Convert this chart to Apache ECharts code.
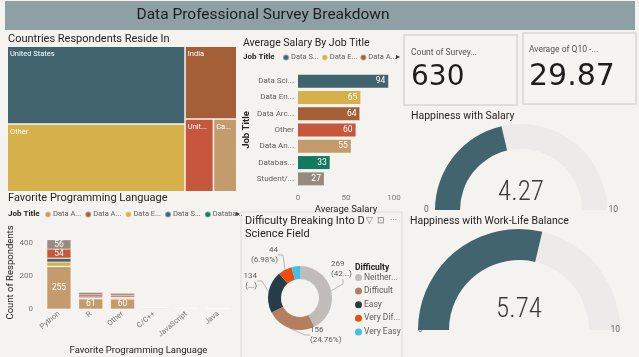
<!DOCTYPE html>
<html><head><meta charset="utf-8">
<script src="https://cdn.jsdelivr.net/npm/echarts@6/dist/echarts.min.js"></script>
<style>html,body{margin:0;padding:0;background:#f4f3ef}#c{width:639px;height:357px}</style>
</head><body><div id="c"></div>
<script>
// ---------- data ----------
const countries = ['United States','Other','India','United Kingdom','Canada'];
const countryCounts = [261,227,71,39,32];

const salaryTitles = ['Data Scientist','Data Engineer','Data Architect','Other','Data Analyst','Database Developer','Student/Looking/None'];
const salaryValues = [94,65,64,60,55,33,27];

const languages = ['Python','R','Other','C/C++','JavaScript','Java'];
const jobTitles = ['Data Analyst','Data Architect','Data Engineer','Data Scientist','Database Developer','Other','Student/Looking/None'];
const langAnalyst   = [255,61,60,5,3,2];
const langArchitect = [3,1,1,1,1,0];
const langEngineer  = [25,4,5,1,1,0];
const langScientist = [22,6,4,0,0,0];
const langDatabase  = [2,1,2,0,0,0];
const langOther     = [54,12,11,1,1,1];
const langStudent   = [56,15,12,1,0,0];

const difficulty = ['Neither easy nor difficult','Difficult','Easy','Very Difficult','Very Easy'];
const difficultyCounts = [269,156,134,44,27];

const surveyCount = 630;
const avgQ10 = 29.87;
const happySalary = 4.27;
const happyWLB = 5.74;
const gaugeTicks = [0,10];

// ---------- style ----------
const BG = '#f4f3ef';
const FONT = "Roboto,'Noto Sans',sans-serif";
const C = {teal:'#41646e', yellow:'#d6b14b', brown:'#a55f37', red:'#c6573d', tan:'#c49b6d', green:'#137a5d', gray:'#968b81'};
const jobColor = {'Data Analyst':C.tan,'Data Architect':C.brown,'Data Engineer':C.yellow,'Data Scientist':C.teal,'Database Developer':C.green,'Other':C.red,'Student/Looking/None':C.gray};
const countryColor = [C.teal, C.yellow, C.brown, C.red, C.tan];
const diffColor = ['#c1bcb7','#b47f5f','#263d48','#e64f10','#3fc0e8'];
const langSeries = [langAnalyst,langArchitect,langEngineer,langScientist,langDatabase,langOther,langStudent];
// donut label placement (layout only)
const pieLabelPos = [
  {x:331, y:269, align:'left'},
  {x:310, y:335, align:'left'},
  {x:257, y:281, align:'right'},
  {x:278, y:255, align:'right'},
  null
];
const pieLabelWidth = [24, null, 15, null, null];

const chart = echarts.init(document.getElementById('c'));
const short = n => n.length > 6 ? n.slice(0,6) + '...' : n;

function gauge(center, radius, width, value, detailY, labelPad, labelDist) {
  return {
    type:'gauge', center:center, radius:radius, startAngle:180, endAngle:0, min:gaugeTicks[0], max:gaugeTicks[1], splitNumber:1,
    progress:{show:true, width:width, itemStyle:{color:C.teal}},
    axisLine:{lineStyle:{width:width, color:[[1,'#ecebea']]}},
    pointer:{show:false}, anchor:{show:false}, axisTick:{show:false},
    splitLine:{show:false, length:0, distance:0},
    axisLabel:{distance:labelDist, color:'#666', fontSize:8.5, fontFamily:FONT, padding:labelPad},
    title:{show:false},
    detail:{offsetCenter:[0,detailY], formatter:v=>v.toFixed(2), fontSize:27, fontWeight:300, color:'#3a3a3a', fontFamily:"'Liberation Sans Narrow','Roboto Condensed',Roboto"},
    data:[{value:value}], silent:true, animation:false
  };
}

const txt = (x,y,t,size,opt) => Object.assign({type:'text', x:x, y:y, style:Object.assign({text:t, fill:'#252423', font: size+'px '+FONT, textVerticalAlign:'middle'}, opt||{})});

const option = {
  backgroundColor: BG,
  animation:false,
  grid:[
    {left:298, top:73, width:96, height:114, containLabel:false},
    {left:43, top:236, width:191, height:79, containLabel:false}
  ],
  legend:[
    {data:['Data Scientist','Data Engineer','Data Architect'], left:282, top:53.5, icon:'circle', itemWidth:6, itemHeight:6, itemGap:2, padding:0,
     formatter:short, textStyle:{fontSize:7.5, color:'#605e5c', fontFamily:FONT, padding:[0,0,0,-3]}, selectedMode:false},
    {data:['Data Analyst','Data Architect','Data Engineer','Data Scientist','Database Developer'], left:44, top:210.5, icon:'circle', itemWidth:6, itemHeight:6, itemGap:3, padding:0,
     formatter:short, textStyle:{fontSize:7.5, color:'#605e5c', fontFamily:FONT, padding:[0,0,0,-3]}, selectedMode:false},
    {data:difficulty, orient:'vertical', left:355, top:273, icon:'circle', itemWidth:7, itemHeight:7, itemGap:4.6, padding:0,
     textStyle:{fontSize:8.5, color:'#605e5c', fontFamily:FONT, width:38, overflow:'truncate', ellipsis:'...', padding:[0,0,0,-3]}, selectedMode:false}
  ],
  xAxis:[
    {gridIndex:0, type:'value', min:0, max:100, interval:50, splitLine:{show:false}, axisLine:{show:false}, axisTick:{show:false},
     axisLabel:{fontSize:8, color:'#777', fontFamily:FONT, margin:7},
     name:'Average Salary', nameLocation:'middle', nameGap:18, nameTextStyle:{fontSize:9.5, color:'#252423', fontFamily:FONT}},
    {gridIndex:1, type:'category', data:languages, axisLine:{show:false}, axisTick:{show:false},
     axisLabel:{fontSize:7.5, color:'#777', fontFamily:FONT, rotate:40, margin:4, interval:0},
     name:'Favorite Programming Language', nameLocation:'middle', nameGap:37, nameTextStyle:{fontSize:9.5, color:'#252423', fontFamily:FONT}}
  ],
  yAxis:[
    {gridIndex:0, type:'category', data:salaryTitles, inverse:true, axisLine:{show:false}, axisTick:{show:false},
     axisLabel:{fontSize:8, color:'#605e5c', fontFamily:FONT, width:39, overflow:'truncate', ellipsis:'...', margin:4},
     name:'Job Title', nameLocation:'middle', nameGap:46, nameRotate:90, nameTextStyle:{fontSize:9.5, fontWeight:'bold', color:'#252423', fontFamily:FONT}},
    {gridIndex:1, type:'value', min:0, max:440, interval:200, splitLine:{show:false}, axisLine:{show:false}, axisTick:{show:false},
     axisLabel:{fontSize:8, color:'#777', fontFamily:FONT, margin:10, showMaxLabel:false},
     name:'Count of Respondents', nameLocation:'middle', nameGap:26, nameRotate:90, nameTextStyle:{fontSize:9.5, color:'#252423', fontFamily:FONT}}
  ],
  series:[
    {type:'treemap', left:8, top:47, width:228, height:144, roam:false, nodeClick:false, breadcrumb:{show:false},
     label:{show:true, position:'insideTopLeft', color:'#fff', fontSize:7.5, fontFamily:FONT, overflow:'truncate', ellipsis:'...', padding:[3,1,3,2]},
     upperLabel:{show:false},
     levels:[{itemStyle:{gapWidth:1.5, borderWidth:0, borderColor:BG}}],
     itemStyle:{borderWidth:0},
     data: countries.map((n,i)=>({name:n, value:countryCounts[i], itemStyle:{color:countryColor[i]}})), silent:true},
    {type:'bar', xAxisIndex:0, yAxisIndex:0, barWidth:13,
     data: salaryValues.map((v,i)=>({value:v, itemStyle:{color:jobColor[salaryTitles[i]]}})),
     label:{show:true, position:'insideRight', color:'#fff', fontSize:8.5, fontFamily:FONT, distance:3}, silent:true},
    ...jobTitles.map((t,k)=>({
      name:t, type:'bar', stack:'lang', xAxisIndex:1, yAxisIndex:1, barWidth:24, data:langSeries[k],
      itemStyle:{color:jobColor[t], borderColor:'rgba(255,255,255,0.35)', borderWidth:0.5},
      label:{show:true, position:'inside', color:'#fff', fontSize:8.5, fontFamily:FONT, formatter:p=>p.value>=50?p.value:''}, silent:true
    })),
    {type:'pie', center:[300,298], radius:[19,32], startAngle:90, clockwise:true, avoidLabelOverlap:false,
     label:{formatter:'{c}\n({d}%)', fontSize:8, color:'#605e5c', fontFamily:FONT, lineHeight:10},
     labelLine:{length:5, length2:5, lineStyle:{color:'#a8a8a8', width:0.8}},
     labelLayout: p => { const L = pieLabelPos[p.dataIndex]; return L ? {x:L.x, y:L.y, align:L.align, verticalAlign:'middle'} : {}; },
     data: difficulty.map((n,i)=>({name:n, value:difficultyCounts[i], itemStyle:{color:diffColor[i]},
       label: i===4 ? {show:false} : (pieLabelWidth[i] ? {width:pieLabelWidth[i], overflow:'truncate', ellipsis:'...)'} : {}),
       labelLine: i===4 ? {show:false} : {}})), silent:true},
    gauge([521,210], 86, 25, happySalary, -17, [0,0,0,0], -11),
    gauge([519,330], 101, 31, happyWLB, -20, [17,0,0,0], 0)
  ],
  graphic:[
    {type:'rect', shape:{x:5, y:1, width:630, height:29}, style:{fill:'#8fa0a5'}},
    txt(263,15,'Data Professional Survey Breakdown',15.5,{textAlign:'center', fill:'#1d1d1d'}),
    txt(8,39,'Countries Respondents Reside In',11),
    txt(243,43,'Average Salary By Job Title',10.5),
    txt(243,57,'Job Title',8,{font:'bold 8px '+FONT}),
    txt(396,57,'▸',8,{fill:'#333'}),
    txt(8,198,'Favorite Programming Language',11),
    txt(8,214,'Job Title',8,{font:'bold 8px '+FONT}),
    txt(236,214,'▸',8,{fill:'#333'}),
    {type:'rect', shape:{x:241, y:212, width:161, height:146}, style:{fill:'none', stroke:'#dcdcdc', lineWidth:1}},
    txt(245,221,'Difficulty Breaking Into D',11),
    txt(245,234,'Science Field',11),
    txt(366,221,'▽',9,{fill:'#777'}),
    txt(377,221,'⊡',9,{fill:'#777'}),
    txt(390,221,'···',9,{fill:'#777'}),
    txt(355,268,'Difficulty',8.5,{font:'bold 8.5px '+FONT}),
    {type:'rect', shape:{x:404, y:35, width:113, height:70}, style:{fill:'#f5f4f1', stroke:'#d6d6d3', lineWidth:1.5}},
    {type:'rect', shape:{x:523, y:33, width:113, height:71}, style:{fill:'#f5f4f1', stroke:'#d6d6d3', lineWidth:1.5}},
    txt(411,53,'Count of Survey...',8.5,{fill:'#555'}),
    txt(411,78,String(surveyCount),28,{font:'28px "DejaVu Sans"', fill:'#1d1d1d'}),
    txt(529,50,'Average of Q10 -...',8.5,{fill:'#555'}),
    txt(529,77,avgQ10.toFixed(2),30,{font:'30px "DejaVu Sans"', fill:'#1d1d1d'}),
    txt(411,116,'Happiness with Salary',10.5),
    txt(410,221,'Happiness with Work-Life Balance',10.5)
  ]
};
chart.setOption(option);
</script></body></html>
